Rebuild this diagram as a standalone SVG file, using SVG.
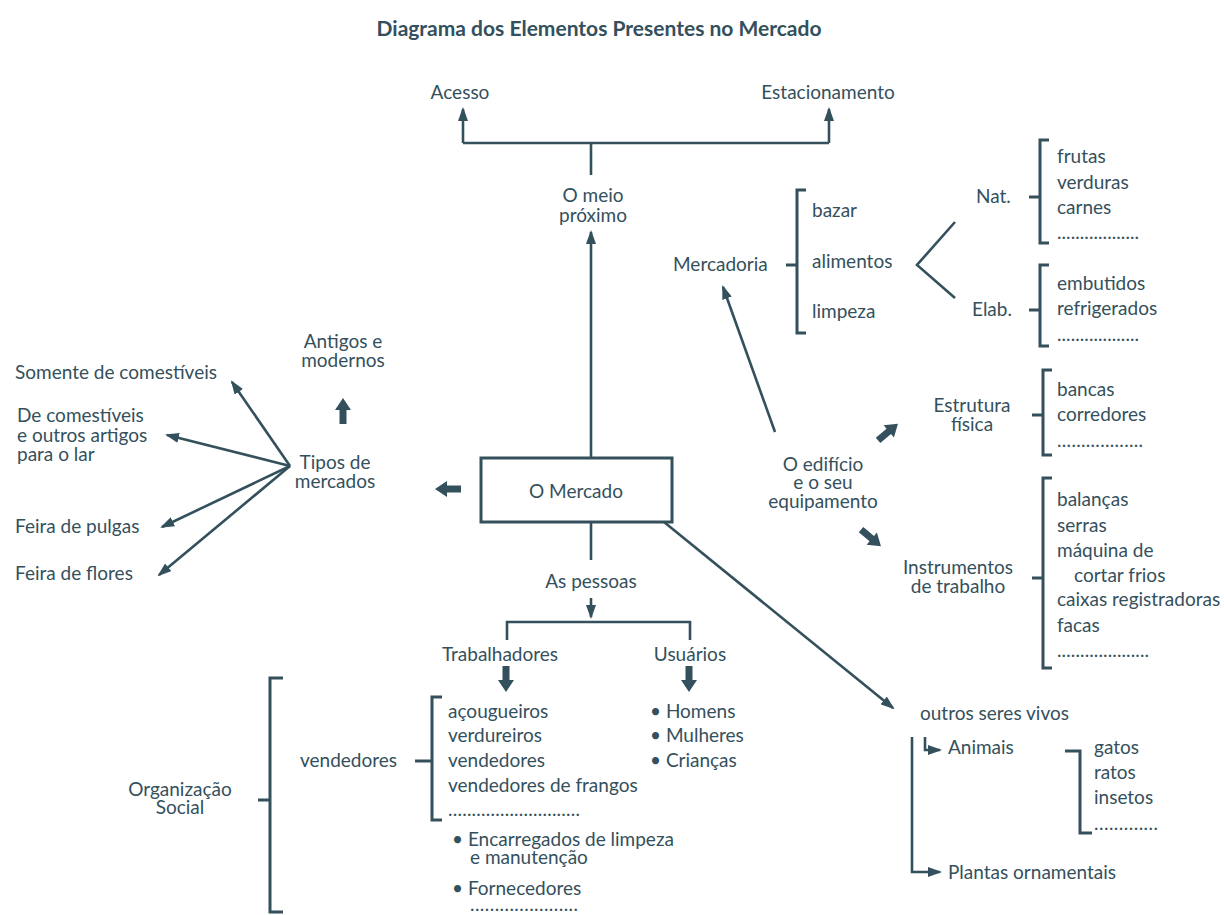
<svg xmlns="http://www.w3.org/2000/svg" width="1224" height="915" viewBox="0 0 1224 915">
<defs>
<style>
text{font-family:Lato,"Open Sans","Liberation Sans",sans-serif;font-size:19px;fill:#34505c}
.t{font-size:21px;font-weight:bold}
.m{text-anchor:middle}
.ln{fill:none;stroke:#34505c;stroke-width:2.6}
.br{fill:none;stroke:#34505c;stroke-width:3}
.ar{marker-end:url(#ah)}
.fat{fill:#34505c}
</style>
<marker id="ah" viewBox="0 0 14 10" refX="12" refY="5" markerWidth="14" markerHeight="10" markerUnits="userSpaceOnUse" orient="auto">
<path d="M0,0 L14,5 L0,10 Z" fill="#34505c"/>
</marker>
<path id="fat" d="M0,-13 L8,-1 L3.5,-1 L3.5,13 L-3.5,13 L-3.5,-1 L-8,-1 Z"/>
</defs>
<rect width="1224" height="915" fill="#ffffff"/>
<text class="t m" x="599" y="36">Diagrama dos Elementos Presentes no Mercado</text>

<g id="connectors">
<path class="ln" d="M463,143 H829 M591,143 V175"/>
<path class="ln ar" d="M463,143 V109"/>
<path class="ln ar" d="M829,143 V109"/>
<path class="ln ar" d="M591,458 V232"/>
<path class="ln ar" d="M775,432 L723,287"/>
<path class="ln ar" d="M664,522 L893,708"/>
<path class="ln" d="M591,522 V560"/>
<path class="ln ar" d="M591,598 V617"/>
<path class="ln" d="M507,640 V622 H690 V640"/>
<path class="ln ar" d="M290,466 L232,382"/>
<path class="ln ar" d="M290,466 L167,435"/>
<path class="ln ar" d="M290,466 L162,527"/>
<path class="ln ar" d="M290,466 L159,575"/>
<g class="fat">
<use href="#fat" transform="translate(343,411)"/>
<use href="#fat" transform="translate(448,489) rotate(-90)"/>
<use href="#fat" transform="translate(888,432) rotate(50)"/>
<use href="#fat" transform="translate(871,538) rotate(130)"/>
<use href="#fat" transform="translate(506,679) rotate(180)"/>
<use href="#fat" transform="translate(689,679) rotate(180)"/>
</g>
<path class="ln" d="M955,222 L917,265 L955,298"/>
<path class="ln ar" d="M912,737 V872 H940"/>
<path class="ln ar" d="M925,737 V750 H940"/>
</g>

<g id="n-acesso"><text class="m" x="460" y="99">Acesso</text></g>
<g id="n-estacionamento"><text class="m" x="828" y="99">Estacionamento</text></g>
<g id="n-meio"><text class="m" x="593" y="202">O meio</text><text class="m" x="593" y="222">próximo</text></g>

<g id="n-mercado">
<rect x="481" y="458" width="191" height="64" fill="#fff" stroke="#34505c" stroke-width="3"/>
<text class="m" x="576" y="498">O Mercado</text>
</g>

<g id="n-tipos"><text class="m" x="335" y="469">Tipos de</text><text class="m" x="335" y="488">mercados</text></g>
<g id="n-antigos"><text class="m" x="343" y="348">Antigos e</text><text class="m" x="343" y="367">modernos</text></g>
<g id="n-somente"><text x="15" y="379">Somente de comestíveis</text></g>
<g id="n-decomestiveis"><text x="17" y="422">De comestíveis</text><text x="17" y="442">e outros artigos</text><text x="17" y="461">para o lar</text></g>
<g id="n-pulgas"><text x="15" y="533">Feira de pulgas</text></g>
<g id="n-flores"><text x="15" y="580">Feira de flores</text></g>

<g id="n-mercadoria">
<text x="673" y="271">Mercadoria</text>
<path class="br" d="M786,265 H797 M806,190 H797 V333 H806"/>
<text x="812" y="217">bazar</text>
<text x="812" y="268">alimentos</text>
<text x="812" y="318">limpeza</text>
</g>
<g id="n-nat">
<text x="976" y="203">Nat.</text>
<path class="br" d="M1029,197 H1040 M1049,140 H1040 V243 H1049"/>
<text x="1057" y="163">frutas</text>
<text x="1057" y="189">verduras</text>
<text x="1057" y="214">carnes</text>
<text x="1057" y="239" textLength="82" lengthAdjust="spacing">..................</text>
</g>
<g id="n-elab">
<text x="972" y="316">Elab.</text>
<path class="br" d="M1029,310 H1040 M1049,265 H1040 V346 H1049"/>
<text x="1057" y="290">embutidos</text>
<text x="1057" y="315">refrigerados</text>
<text x="1057" y="341" textLength="82" lengthAdjust="spacing">..................</text>
</g>

<g id="n-edificio"><text class="m" x="823" y="471">O edifício</text><text class="m" x="823" y="489">e o seu</text><text class="m" x="823" y="508">equipamento</text></g>
<g id="n-estrutura">
<text class="m" x="972" y="412">Estrutura</text><text class="m" x="972" y="431">física</text>
<path class="br" d="M1032,415 H1043 M1052,370 H1043 V455 H1052"/>
<text x="1057" y="396">bancas</text>
<text x="1057" y="421">corredores</text>
<text x="1057" y="447" textLength="86" lengthAdjust="spacing">..................</text>
</g>
<g id="n-instrumentos">
<text class="m" x="958" y="574">Instrumentos</text><text class="m" x="958" y="593">de trabalho</text>
<path class="br" d="M1032,578 H1043 M1052,478 H1043 V668 H1052"/>
<text x="1057" y="506">balanças</text>
<text x="1057" y="532">serras</text>
<text x="1057" y="557">máquina de</text>
<text x="1074" y="582">cortar frios</text>
<text x="1057" y="606">caixas registradoras</text>
<text x="1057" y="632">facas</text>
<text x="1057" y="657" textLength="92" lengthAdjust="spacing">....................</text>
</g>

<g id="n-pessoas"><text class="m" x="591" y="588">As pessoas</text></g>
<g id="n-trabalhadores"><text class="m" x="500" y="661">Trabalhadores</text></g>
<g id="n-usuarios"><text class="m" x="690" y="661">Usuários</text>
<text x="650" y="718">• Homens</text>
<text x="650" y="742">• Mulheres</text>
<text x="650" y="767">• Crianças</text>
</g>
<g id="n-vendedores">
<text x="300" y="767">vendedores</text>
<path class="br" d="M415,761 H432 M442,697 H432 V820 H442"/>
<text x="448" y="718">açougueiros</text>
<text x="448" y="742">verdureiros</text>
<text x="448" y="767">vendedores</text>
<text x="448" y="792">vendedores de frangos</text>
<text x="448" y="816" textLength="132" lengthAdjust="spacing">............................</text>
</g>
<g id="n-outros-trab">
<text x="452" y="846">• Encarregados de limpeza</text>
<text x="470" y="864">e manutenção</text>
<text x="452" y="895">• Fornecedores</text>
<text x="470" y="911" textLength="108" lengthAdjust="spacing">......................</text>
</g>
<g id="n-organizacao">
<text class="m" x="180" y="796">Organização</text><text class="m" x="180" y="814">Social</text>
<path class="br" d="M258,800 H270 M283,678 H270 V912 H283"/>
</g>

<g id="n-outros-seres"><text x="920" y="720">outros seres vivos</text></g>
<g id="n-animais">
<text x="948" y="754">Animais</text>
<path class="br" d="M1065,751 H1080 V833 H1092"/>
<text x="1094" y="754">gatos</text>
<text x="1094" y="779">ratos</text>
<text x="1094" y="804">insetos</text>
<text x="1094" y="830" textLength="64" lengthAdjust="spacing">.............</text>
</g>
<g id="n-plantas"><text x="948" y="879">Plantas ornamentais</text></g>
</svg>
